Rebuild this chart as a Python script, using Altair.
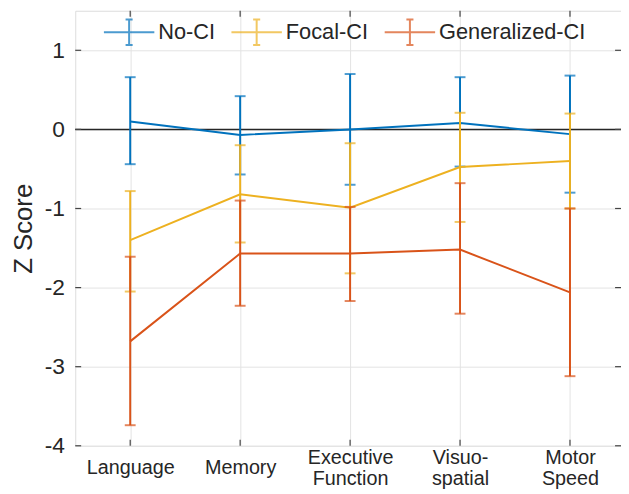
import altair as alt
import pandas as pd

# ---- data ----
categories = ["Language", "Memory", "Executive\nFunction", "Visuo-\nspatial", "Motor\nSpeed"]
groups = ["No-CI", "Focal-CI", "Generalized-CI"]
colors = ["#0072BD", "#EDB120", "#D95319"]

noci_mean = [0.10, -0.07, 0.00, 0.08, -0.06]
noci_upper = [0.66, 0.42, 0.70, 0.66, 0.68]
noci_lower = [-0.44, -0.57, -0.70, -0.47, -0.80]

focal_mean = [-1.40, -0.82, -0.99, -0.475, -0.40]
focal_upper = [-0.78, -0.20, -0.175, 0.21, 0.20]
focal_lower = [-2.05, -1.43, -1.82, -1.17, -1.00]

gen_mean = [-2.68, -1.57, -1.57, -1.52, -2.06]
gen_upper = [-1.61, -0.90, -0.98, -0.68, -1.00]
gen_lower = [-3.74, -2.23, -2.17, -2.33, -3.12]

y_ticks = [-4, -3, -2, -1, 0, 1]
y_domain = [-4, 1.5]

# ---- build table ----
series = {
    "No-CI": (noci_mean, noci_upper, noci_lower),
    "Focal-CI": (focal_mean, focal_upper, focal_lower),
    "Generalized-CI": (gen_mean, gen_upper, gen_lower),
}
rows = []
for g in groups:
    m, u, l = series[g]
    for c, mv, uv, lv in zip(categories, m, u, l):
        rows.append({"cat": c, "group": g, "mean": mv, "upper": uv, "lower": lv})
df = pd.DataFrame(rows)

W, H = 552, 440
FONT = "Liberation Sans"
TXT = "#262626"
GRID = "#e3e3e3"

legend_path = "M-1,0H1M0,-0.51V0.51M-0.14,-0.51H0.14M-0.14,0.51H0.14"
legend = alt.Legend(
    orient="none", legendX=28, legendY=-5, direction="horizontal", title=None,
    symbolType=legend_path, symbolSize=2601, symbolStrokeWidth=2,
    labelFontSize=22, labelFont=FONT, labelColor=TXT, labelOffset=3,
    columnPadding=12, symbolFillColor="transparent",
)
color = alt.Color("group:N", scale=alt.Scale(domain=groups, range=colors), legend=legend)

xscale = alt.Scale(type="point", padding=0.5, range=[0, 556])
xenc = alt.X(
    "cat:N", sort=categories, scale=xscale,
    axis=alt.Axis(
        title=None, labelExpr="split(datum.label, '\\n')", labelAngle=0,
        labelFontSize=20, labelFont=FONT, labelColor=TXT, labelBaseline="middle",
        labelAlign="center", labelFlush=False, labelOverlap=False, labelBound=False,
        labelLineHeight=21,
        labelPadding={"condition": {"test": "indexof(datum.value, '\\n') >= 0", "value": 12},
                      "value": 22},
        ticks=False, domain=False, grid=True, gridColor=GRID, gridWidth=1,
    ),
)
yaxis = alt.Axis(
    values=y_ticks, title="Z Score", titleFontSize=26, titleFont=FONT,
    titleFontWeight="normal", titleColor=TXT, titleAngle=270,
    titleBaseline="middle", titleAlign="center", titleX=-52, titleY=H / 2,
    labelExpr="'' + datum.value",
    labelFontSize=23, labelFont=FONT, labelColor=TXT, labelPadding=11,
    ticks=False, domain=False, grid=True, gridColor=GRID, gridWidth=1,
)
yscale = alt.Scale(domain=y_domain, nice=False, zero=False)

base = alt.Chart(df)

# zero line
zero = alt.Chart(pd.DataFrame({"y": [0]})).mark_rule(color="#262626", strokeWidth=1.5).encode(
    y=alt.Y("y:Q", scale=yscale, axis=yaxis)
)

# inward ticks on the frame
tdf = pd.DataFrame({"t": y_ticks})
lt = alt.Chart(tdf).mark_rule(color="#444", strokeWidth=1.2).encode(
    y=alt.Y("t:Q", scale=yscale), x=alt.value(0), x2=alt.value(6))
rt = alt.Chart(tdf).mark_rule(color="#444", strokeWidth=1.2).encode(
    y=alt.Y("t:Q", scale=yscale), x=alt.value(W - 6), x2=alt.value(W))
cdf = pd.DataFrame({"cat": categories})
bt = alt.Chart(cdf).mark_rule(color="#444", strokeWidth=1.2).encode(
    x=alt.X("cat:N", sort=categories, scale=xscale),
    y=alt.value(H - 6), y2=alt.value(H))
tt = alt.Chart(cdf).mark_rule(color="#444", strokeWidth=1.2).encode(
    x=alt.X("cat:N", sort=categories, scale=xscale),
    y=alt.value(0), y2=alt.value(6))

layers = [zero, lt, rt, bt, tt]
for g in groups:
    sub = base.transform_filter(alt.datum.group == g)
    bars = sub.mark_rule(strokeWidth=2).encode(
        x=xenc, y=alt.Y("lower:Q", scale=yscale), y2="upper:Q", color=color)
    cap_lo = sub.mark_tick(orient="horizontal", size=11, thickness=2).encode(
        x=xenc, y=alt.Y("lower:Q", scale=yscale), color=color)
    cap_hi = sub.mark_tick(orient="horizontal", size=11, thickness=2).encode(
        x=xenc, y=alt.Y("upper:Q", scale=yscale), color=color)
    line = sub.mark_line(strokeWidth=2).encode(
        x=xenc, y=alt.Y("mean:Q", scale=yscale), color=color)
    layers += [bars, cap_lo, cap_hi, line]

chart = alt.layer(*layers).properties(
    width=W, height=H,
    autosize=alt.AutoSizeParams(type="none"),
    padding={"left": 68, "top": 0, "right": 0, "bottom": 46},
).configure_view(
    stroke="#4a4a4a", strokeWidth=1.5
).configure(background="white")

chart.save("out.html", embed_options={"renderer": "svg", "actions": False})
